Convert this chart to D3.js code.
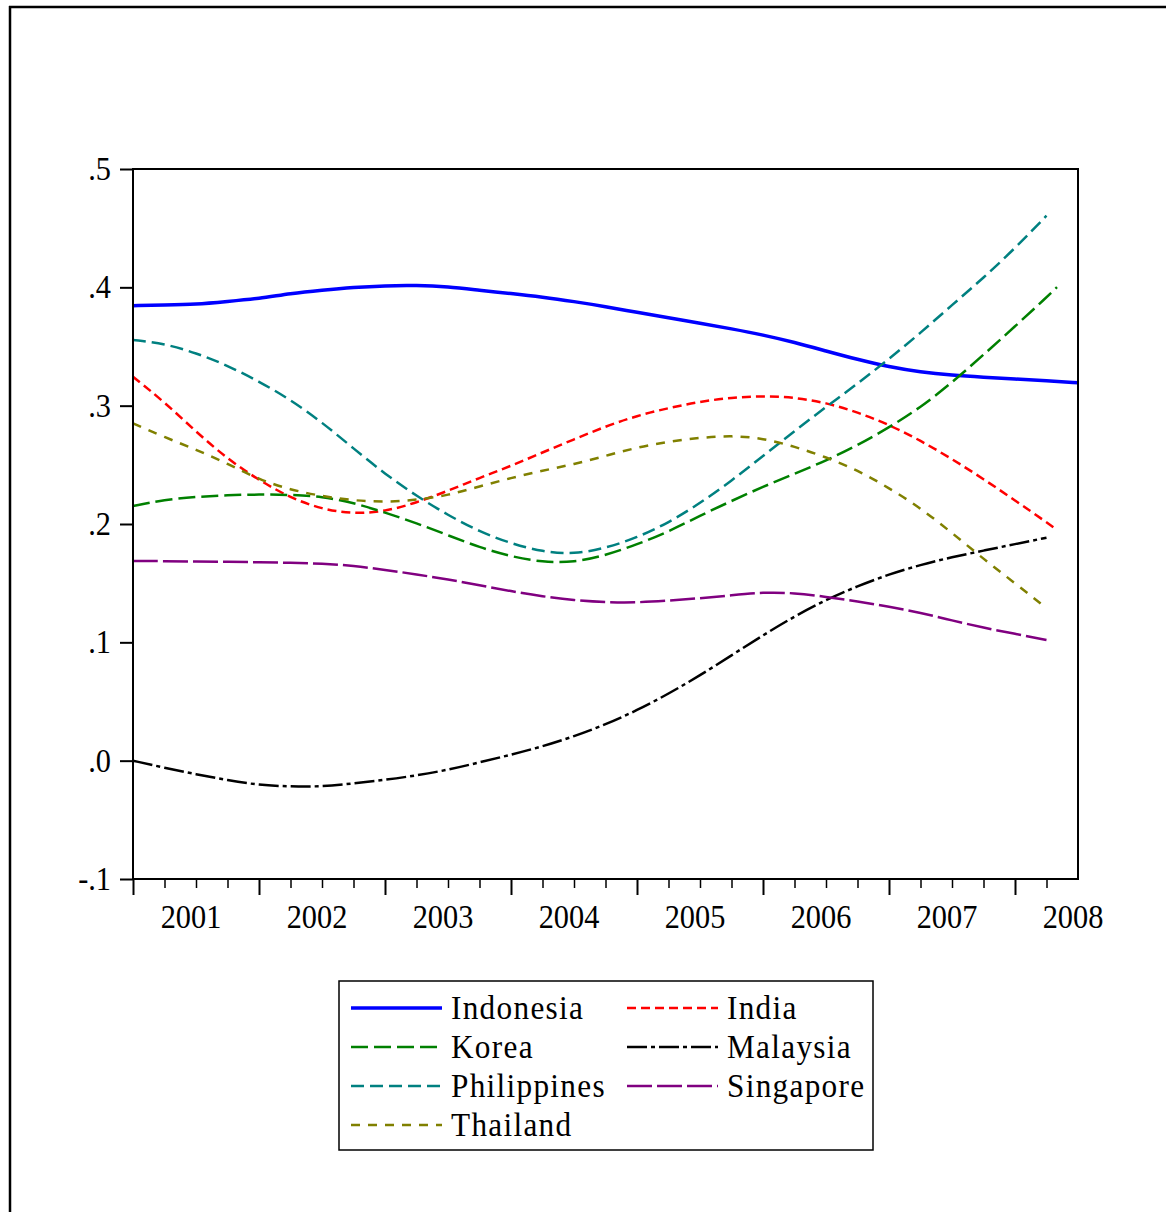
<!DOCTYPE html>
<html>
<head>
<meta charset="utf-8">
<script src="https://cdn.jsdelivr.net/npm/d3@7"></script>
<style>
  body { margin: 0; background: #fff; }
  text { font-family: "Liberation Serif", "Times New Roman", serif; fill: #000; }
</style>
</head>
<body>
<script>
// quarterly observations (the last point of some series is a later month)
const quarters = ["2001-01","2001-04","2001-07","2001-10","2002-01","2002-04","2002-07","2002-10",
  "2003-01","2003-04","2003-07","2003-10","2004-01","2004-04","2004-07","2004-10",
  "2005-01","2005-04","2005-07","2005-10","2006-01","2006-04","2006-07","2006-10",
  "2007-01","2007-04","2007-07","2007-10","2008-01","2008-04"];

const indonesia = [.3845,.385,.3855,.388,.3905,.3948,.3976,.4000,.4014,.4017,.4005,.3975,.3948,.3918,.388,
  .3838,.3788,.3742,.3697,.365,.3598,.3535,.3462,.339,.3328,.3284,.3257,.324,.3225,.321];
const india = [.3245,.303,.278,.255,.237,.222,.2125,.2085,.2105,.218,.228,.239,.249,.2605,.2715,
  .2825,.2915,.298,.3035,.3068,.3082,.307,.3025,.2945,.284,.2705,.255,.238,.22,.2015];
const korea = [.2152,.2205,.223,.2244,.225,.2247,.2232,.218,.2097,.2007,.1905,.1802,.1725,.1677,.1675,
  .1735,.1827,.1935,.207,.2195,.2315,.2425,.2535,.2665,.2815,.2985,.3195,.343,.367,.3915];
const malaysia = [0,-.006,-.0115,-.0165,-.0207,-.0218,-.022,-.0192,-.0163,-.0125,-.0078,-.0014,.005,.012,.0205,
  .0305,.0425,.0565,.072,.089,.106,.122,.136,.1475,.1575,.1655,.172,.1775,.183,.1884];
const philippines = [.3555,.3525,.3445,.334,.3205,.305,.286,.2638,.2423,.2236,.2075,.1935,.1835,.1765,.1745,
  .1795,.1885,.201,.2175,.2365,.2575,.2785,.299,.3185,.3395,.3615,.385,.408,.433,.4605];
const singapore = [.1688,.1686,.1683,.168,.1677,.1672,.1666,.1647,.1613,.1574,.1532,.1482,.1432,.1388,.1355,
  .1338,.1336,.1352,.1372,.1398,.1423,.1418,.1385,.1345,.1302,.125,.1185,.1123,.1072,.102];
const thailand = [.2851,.2733,.263,.251,.2375,.2289,.2235,.2198,.2185,.2203,.2242,.2318,.2389,.2451,.2505,
  .2575,.2648,.2695,.273,.2747,.2725,.2655,.2565,.2455,.2305,.2135,.1925,.1705,.15,.1288];

// extra end observations
const tailDates = { Indonesia: "2008-07", India: "2008-05", Korea: "2008-05" };
const tailValues = { Indonesia: .3194, India: .195, Korea: .4001 };

const yearLabels = ["2001","2002","2003","2004","2005","2006","2007","2008"];
const yTicks = [-.1, 0, .1, .2, .3, .4, .5];

const series = [
  { name: "Indonesia", values: indonesia, color: "#0000ff", dash: null, width: 3.5 },
  { name: "India", values: india, color: "#ff0000", dash: "9,5", width: 2.5 },
  { name: "Korea", values: korea, color: "#008000", dash: "17,6", width: 2.5 },
  { name: "Malaysia", values: malaysia, color: "#000000", dash: "20,4,4,4", width: 2.5 },
  { name: "Philippines", values: philippines, color: "#008080", dash: "13,6", width: 2.5 },
  { name: "Singapore", values: singapore, color: "#800080", dash: "25,5", width: 2.5 },
  { name: "Thailand", values: thailand, color: "#808000", dash: "9,8", width: 2.5 }
];

const W = 1166, H = 1212;
const plot = { left: 133, top: 169, right: 1078, bottom: 879 };
const sx = 0.92; // the reference font is a bit narrow

const toYear = s => +s.slice(0, 4) + (+s.slice(5, 7) - 1) / 12;

const svg = d3.select("body").append("svg")
  .attr("width", W).attr("height", H);

// outer frame (only top and left edges show)
svg.append("line").attr("x1", 9).attr("x2", W).attr("y1", 7).attr("y2", 7)
  .attr("stroke", "#000").attr("stroke-width", 2.5);
svg.append("line").attr("x1", 10).attr("x2", 10).attr("y1", 6).attr("y2", H)
  .attr("stroke", "#000").attr("stroke-width", 2.5);

const x = d3.scaleLinear().domain([2001, 2008.5]).range([plot.left, plot.right]);
const y = d3.scaleLinear().domain([-0.1, 0.5]).range([plot.bottom, plot.top]);

// lines (smoothed, the readings are a bit noisy)
const line = d3.line()
  .x(d => x(d.t))
  .y(d => y(d.v))
  .curve(d3.curveBasis);

series.forEach(s => {
  const pts = quarters.map((q, i) => ({ t: toYear(q), v: s.values[i] }));
  if (tailDates[s.name]) pts.push({ t: toYear(tailDates[s.name]), v: tailValues[s.name] });
  s.points = pts;
});

svg.append("g").selectAll("path")
  .data(series)
  .join("path")
  .attr("d", d => line(d.points))
  .attr("fill", "none")
  .attr("stroke", d => d.color)
  .attr("stroke-width", d => d.width)
  .attr("stroke-dasharray", d => d.dash)
  .attr("stroke-linejoin", "round");

// frame
svg.append("rect")
  .attr("x", plot.left).attr("y", plot.top)
  .attr("width", plot.right - plot.left).attr("height", plot.bottom - plot.top)
  .attr("fill", "none").attr("stroke", "#000").attr("stroke-width", 2);

// y axis
const yAxis = svg.append("g")
  .attr("transform", `translate(${plot.left},0)`)
  .call(d3.axisLeft(y).tickValues(yTicks).tickSize(13).tickSizeOuter(0).tickFormat(""));
yAxis.select(".domain").remove();
yAxis.selectAll(".tick line").attr("stroke-width", 2);

const fmt = d => d === 0 ? ".0" : d3.format(".1f")(d).replace("\u2212", "-").replace("0.", ".");
svg.append("g").selectAll("text")
  .data(yTicks)
  .join("text")
  .attr("transform", d => `translate(${plot.left - 22},${y(d) + 11}) scale(${sx},1)`)
  .attr("text-anchor", "end")
  .style("font-size", "33px")
  .text(fmt);

// x axis: years and quarters
const years = d3.range(2001, 2009);
const qtrs = d3.range(2001, 2008.5, 0.25).filter(t => t % 1 !== 0);
const xMajor = svg.append("g")
  .attr("transform", `translate(0,${plot.bottom})`)
  .call(d3.axisBottom(x).tickValues(years).tickSize(16).tickSizeOuter(0).tickFormat(""));
xMajor.select(".domain").remove();
xMajor.selectAll(".tick line").attr("stroke-width", 2);
const xMinor = svg.append("g")
  .attr("transform", `translate(0,${plot.bottom})`)
  .call(d3.axisBottom(x).tickValues(qtrs).tickSize(9).tickSizeOuter(0).tickFormat(""));
xMinor.select(".domain").remove();
xMinor.selectAll(".tick line").attr("stroke-width", 1.5);

svg.append("g").selectAll("text")
  .data(yearLabels)
  .join("text")
  .attr("transform", d => {
    const cx = Math.min(x(+d + 0.5) - 5, plot.right - 5);
    return `translate(${cx},928) scale(${sx},1)`;
  })
  .attr("text-anchor", "middle")
  .style("font-size", "33px")
  .text(d => d);

// legend
const legend = svg.append("g");
legend.append("rect")
  .attr("x", 339).attr("y", 981).attr("width", 534).attr("height", 169)
  .attr("fill", "#fff").attr("stroke", "#000").attr("stroke-width", 1.5);

const item = legend.selectAll("g.item")
  .data(series)
  .join("g")
  .attr("class", "item")
  .attr("transform", (d, i) => `translate(${i % 2 ? 627 : 351},${1008 + Math.floor(i / 2) * 39})`);

item.append("line")
  .attr("x1", 0).attr("x2", 91).attr("y1", 0).attr("y2", 0)
  .attr("stroke", d => d.color)
  .attr("stroke-width", d => d.width)
  .attr("stroke-dasharray", d => d.dash);

item.append("text")
  .attr("transform", `translate(100,10.5) scale(${sx},1)`)
  .style("font-size", "34px")
  .style("letter-spacing", "1.4px")
  .text(d => d.name);
</script>
</body>
</html>
